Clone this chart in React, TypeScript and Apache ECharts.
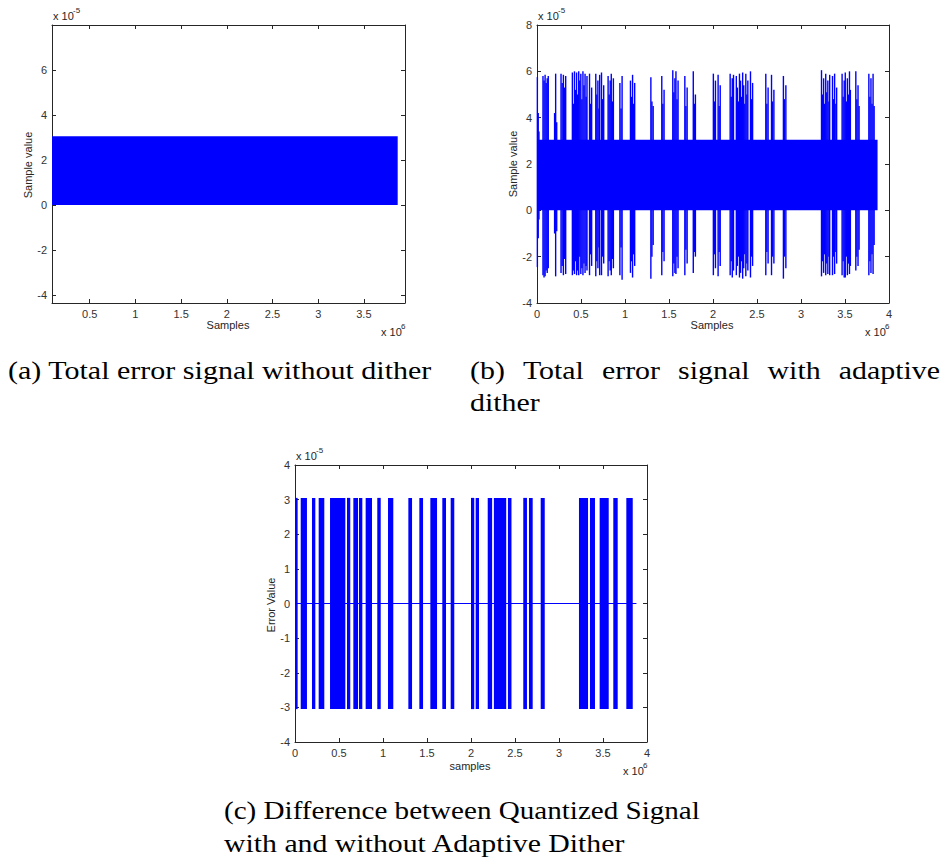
import React, { useEffect, useRef } from 'react';
import * as echarts from 'echarts';

// Units: sample index in millions (x 10^6), error value in x 10^-5.
const quantStep = 3.05; // one quantizer LSB (2^-15)
const signalEnd = 3.87; // last sample of the recording
const zeroLineEnd = 3.88;

const xTicksA = [0.5, 1, 1.5, 2, 2.5, 3, 3.5];
const xTicksBC = [0, 0.5, 1, 1.5, 2, 2.5, 3, 3.5, 4];
const yTicksA = [-4, -2, 0, 2, 4, 6];
const yTicksB = [-4, -2, 0, 2, 4, 6, 8];
const yTicksC = [-4, -3, -2, -1, 0, 1, 2, 3, 4];

// Sample ranges where the adaptive dither changed the quantized output: [from, to]
const ditherBursts: number[][] = [
  [0.0, 0.03], [0.065, 0.136], [0.193, 0.231], [0.269, 0.333], [0.398, 0.572],
  [0.591, 0.628], [0.663, 0.716], [0.727, 0.765], [0.803, 0.875], [0.935, 0.974],
  [1.057, 1.117], [1.288, 1.33], [1.413, 1.455], [1.538, 1.614], [1.674, 1.716],
  [1.769, 1.81], [2.0, 2.037], [2.053, 2.091], [2.19, 2.24], [2.26, 2.4],
  [2.42, 2.46], [2.594, 2.636], [2.659, 2.701], [2.792, 2.838], [3.227, 3.33],
  [3.352, 3.409], [3.462, 3.565], [3.617, 3.667], [3.765, 3.838],
];

// Excursions of the dithered error signal beyond the LSB band: [sample, peak, trough]
const ditherSpikes: number[][] = [
  [0.004, 5.75, -2.45], [0.014, 4.2, -1.2], [0.022, 3.4, -0.4],
  [0.068, 5.8, -2.8], [0.08, 5.6, -2.9], [0.092, 5.85, -2.85], [0.104, 5.5, -2.6], [0.116, 5.7, -2.7], [0.128, 5.8, -2.5],
  [0.2, 4.2, -1.0], [0.212, 5.9, -2.85], [0.224, 3.8, -0.9],
  [0.273, 5.9, -2.7], [0.286, 5.5, -2.4], [0.3, 5.85, -2.8], [0.313, 5.3, -2.1], [0.326, 5.8, -2.75],
  [0.402, 5.95, -2.8], [0.414, 4.6, -2.6], [0.426, 6.0, -2.75], [0.438, 5.2, -2.2],
  [0.45, 5.95, -2.8], [0.462, 5.0, -2.6], [0.474, 6.0, -2.8], [0.486, 5.6, -2.0],
  [0.498, 5.9, -2.75], [0.51, 4.8, -2.5], [0.522, 6.0, -2.8], [0.534, 5.4, -2.3],
  [0.546, 5.9, -2.7], [0.558, 4.9, -2.4], [0.568, 5.8, -2.6],
  [0.597, 5.9, -2.8], [0.609, 4.6, -1.9], [0.621, 5.3, -2.4],
  [0.668, 5.9, -2.85], [0.68, 5.0, -2.2], [0.692, 5.6, -2.5], [0.704, 4.4, -1.6], [0.712, 5.85, -2.8],
  [0.733, 5.95, -2.8], [0.745, 4.8, -2.0], [0.758, 5.4, -2.3],
  [0.808, 5.8, -2.85], [0.82, 5.0, -2.2], [0.832, 5.6, -2.6], [0.844, 5.9, -2.8], [0.856, 4.7, -2.1], [0.868, 5.7, -2.5],
  [0.942, 5.5, -2.8], [0.955, 4.4, -1.6], [0.967, 5.8, -3.0],
  [1.062, 5.6, -2.7], [1.074, 4.9, -2.2], [1.086, 5.85, -2.9], [1.098, 4.6, -1.9], [1.11, 5.5, -2.4],
  [1.294, 5.75, -2.95], [1.306, 4.7, -2.0], [1.32, 4.5, -1.5],
  [1.418, 5.8, -2.8], [1.43, 4.6, -1.8], [1.444, 5.2, -2.2],
  [1.543, 6.05, -2.85], [1.555, 5.1, -2.3], [1.567, 5.7, -2.7], [1.579, 6.0, -2.75], [1.591, 4.8, -2.0], [1.603, 5.6, -2.5],
  [1.68, 5.8, -2.8], [1.692, 4.5, -1.7], [1.706, 5.3, -2.3],
  [1.776, 6.0, -2.7], [1.788, 4.6, -1.8], [1.8, 5.0, -2.0],
  [2.004, 5.9, -2.8], [2.016, 4.7, -1.9], [2.028, 5.6, -2.5],
  [2.058, 5.85, -2.85], [2.07, 4.5, -1.8], [2.082, 5.4, -2.4],
  [2.195, 5.9, -2.8], [2.207, 4.9, -2.2], [2.219, 5.7, -2.9], [2.233, 5.85, -2.6],
  [2.265, 5.8, -2.8], [2.277, 5.3, -2.4], [2.289, 4.7, -2.0], [2.301, 5.9, -2.9], [2.313, 5.6, -2.7],
  [2.325, 4.9, -2.2], [2.337, 5.95, -2.95], [2.349, 5.4, -2.5], [2.361, 4.6, -1.9], [2.373, 5.9, -2.85],
  [2.385, 5.0, -2.3], [2.396, 5.6, -2.6],
  [2.426, 6.0, -2.9], [2.438, 4.8, -2.0], [2.45, 5.5, -2.4],
  [2.6, 5.9, -2.8], [2.612, 4.6, -1.8], [2.626, 5.3, -2.3],
  [2.665, 5.85, -2.8], [2.677, 4.7, -2.0], [2.692, 5.2, -2.3],
  [2.8, 5.8, -2.95], [2.812, 4.8, -2.0], [2.828, 5.4, -2.5],
  [3.233, 6.05, -2.85], [3.245, 5.0, -2.2], [3.257, 5.7, -2.7], [3.269, 4.6, -1.9], [3.281, 5.9, -2.8],
  [3.293, 5.1, -2.3], [3.305, 5.6, -2.75], [3.317, 4.7, -2.0], [3.326, 5.85, -2.8],
  [3.358, 5.8, -2.8], [3.37, 4.8, -2.0], [3.382, 5.9, -2.75], [3.396, 4.6, -1.8], [3.405, 5.3, -2.3],
  [3.467, 5.9, -2.8], [3.479, 4.9, -2.2], [3.491, 5.6, -2.9], [3.503, 5.95, -2.9], [3.515, 4.7, -2.0],
  [3.527, 5.7, -2.8], [3.539, 5.0, -2.3], [3.551, 6.0, -2.75], [3.561, 5.2, -2.4],
  [3.623, 6.0, -2.6], [3.635, 4.8, -2.0], [3.648, 5.4, -2.4], [3.66, 4.5, -1.7],
  [3.771, 5.9, -2.8], [3.783, 4.9, -2.2], [3.795, 5.7, -2.7], [3.807, 4.6, -1.9], [3.819, 5.9, -2.75], [3.831, 4.5, -1.5],
];

const BLUE = '#0000ff';
const INK = '#262626';
const SANS = '"Liberation Sans", Arial, sans-serif';
const CAPTION_FONT = '26px "Liberation Serif", "Times New Roman", serif';

function valueAxis(gridIndex: number, position: string, min: number, max: number, ticks: number[], showLabels: boolean) {
  return {
    type: 'value',
    gridIndex,
    position,
    min,
    max,
    axisLine: { show: true, onZero: false, lineStyle: { color: INK, width: 1 } },
    axisTick: { show: true, inside: true, length: 4, customValues: ticks, lineStyle: { color: INK } },
    axisLabel: {
      show: showLabels,
      customValues: ticks,
      color: '#333',
      fontSize: 11,
      fontFamily: SANS,
      margin: 5,
      showMinLabel: true,
      showMaxLabel: true,
    },
    splitLine: { show: false },
  };
}

function rectItem(params: any, api: any) {
  const p0 = api.coord([api.value(0), api.value(3)]);
  const p1 = api.coord([api.value(1), api.value(2)]);
  const shape = echarts.graphic.clipRectByRect(
    { x: p0[0], y: p0[1], width: p1[0] - p0[0], height: p1[1] - p0[1] },
    { x: params.coordSys.x, y: params.coordSys.y, width: params.coordSys.width, height: params.coordSys.height }
  );
  return shape && { type: 'rect', shape, style: { fill: BLUE } };
}

function spikeItem(_params: any, api: any) {
  const top = api.coord([api.value(0), api.value(1)]);
  const bottom = api.coord([api.value(0), api.value(2)]);
  return {
    type: 'line',
    shape: { x1: top[0], y1: top[1], x2: bottom[0], y2: bottom[1] },
    style: { stroke: BLUE, lineWidth: 1.4 },
  };
}

function label(text: string, x: number, y: number, opts: any = {}) {
  return {
    type: 'text',
    x,
    y,
    rotation: opts.rotation || 0,
    scaleX: opts.scaleX || 1,
    style: {
      text,
      font: opts.font || `11px ${SANS}`,
      fill: opts.fill || INK,
      align: opts.align || 'left',
      verticalAlign: 'middle',
    },
  };
}

function exponent(x: number, y: number, power: string) {
  return [label('x 10', x, y), label(power, x + 20, y - 6, { font: `8px ${SANS}` })];
}

let measureCtx: CanvasRenderingContext2D | null = null;
function captionWidth(text: string) {
  if (!measureCtx) measureCtx = document.createElement('canvas').getContext('2d');
  if (!measureCtx) return text.length * 11;
  measureCtx.font = CAPTION_FONT;
  return measureCtx.measureText(text).width;
}

// A caption line stretched horizontally to run from left to right.
function captionLine(text: string, left: number, right: number, y: number) {
  const scaleX = (right - left) / captionWidth(text);
  return label(text, left, y, { font: CAPTION_FONT, fill: '#000', scaleX });
}

// A justified caption line: words spread evenly between left and right.
function justifiedLine(text: string, left: number, right: number, y: number, scaleX: number) {
  const words = text.split(' ');
  const widths = words.map((w) => captionWidth(w) * scaleX);
  const gap = (right - left - widths.reduce((a, b) => a + b, 0)) / (words.length - 1);
  let x = left;
  return words.map((w, i) => {
    const el = label(w, x, y, { font: CAPTION_FONT, fill: '#000', scaleX });
    x += widths[i] + gap;
    return el;
  });
}

export default function App() {
  const ref = useRef<HTMLDivElement>(null);

  useEffect(() => {
    if (!ref.current) return;
    const chart = echarts.init(ref.current, null, { renderer: 'svg' });
    const band = [[0, signalEnd, 0, quantStep]];
    const burstRects = ditherBursts.map(([from, to]) => [from, to, -quantStep, quantStep]);
    const captionScale = 1.15;

    chart.setOption({
      animation: false,
      grid: [
        { left: 52, top: 25, width: 353, height: 278, containLabel: false, outerBoundsMode: 'none' },
        { left: 537, top: 25, width: 352, height: 278, containLabel: false, outerBoundsMode: 'none' },
        { left: 295, top: 465, width: 352, height: 277, containLabel: false, outerBoundsMode: 'none' },
      ],
      xAxis: [
        valueAxis(0, 'bottom', 0.087, 3.95, xTicksA, true),
        valueAxis(0, 'top', 0.087, 3.95, xTicksA, false),
        valueAxis(1, 'bottom', 0, 4, xTicksBC, true),
        valueAxis(1, 'top', 0, 4, xTicksBC, false),
        valueAxis(2, 'bottom', 0, 4, xTicksBC, true),
        valueAxis(2, 'top', 0, 4, xTicksBC, false),
      ],
      yAxis: [
        valueAxis(0, 'left', -4.36, 8, yTicksA, true),
        valueAxis(0, 'right', -4.36, 8, yTicksA, false),
        valueAxis(1, 'left', -4, 8, yTicksB, true),
        valueAxis(1, 'right', -4, 8, yTicksB, false),
        valueAxis(2, 'left', -4, 4, yTicksC, true),
        valueAxis(2, 'right', -4, 4, yTicksC, false),
      ],
      series: [
        { type: 'custom', xAxisIndex: 0, yAxisIndex: 0, renderItem: rectItem, data: band, encode: { x: [0, 1], y: [2, 3] }, silent: true },
        { type: 'custom', xAxisIndex: 2, yAxisIndex: 2, renderItem: rectItem, data: band, encode: { x: [0, 1], y: [2, 3] }, silent: true },
        { type: 'custom', xAxisIndex: 2, yAxisIndex: 2, renderItem: spikeItem, data: ditherSpikes, encode: { x: 0, y: [1, 2] }, silent: true },
        {
          type: 'line', xAxisIndex: 4, yAxisIndex: 4, data: [[0, 0], [zeroLineEnd, 0]], color: BLUE,
          symbol: 'none', lineStyle: { color: BLUE, width: 1 }, silent: true,
        },
        { type: 'custom', xAxisIndex: 4, yAxisIndex: 4, renderItem: rectItem, data: burstRects, encode: { x: [0, 1], y: [2, 3] }, silent: true },
      ],
      graphic: [
        // panel (a)
        ...exponent(53, 16, '-5'),
        label('Sample value', 28, 165, { rotation: Math.PI / 2, align: 'center' }),
        label('Samples', 228, 325, { align: 'center' }),
        ...exponent(381, 332, '6'),
        // panel (b)
        ...exponent(538, 16, '-5'),
        label('Sample value', 513, 164, { rotation: Math.PI / 2, align: 'center' }),
        label('Samples', 712, 325, { align: 'center' }),
        ...exponent(865, 332, '6'),
        // panel (c)
        ...exponent(296, 456, '-5'),
        label('Error Value', 271, 605, { rotation: Math.PI / 2, align: 'center' }),
        label('samples', 470, 766, { align: 'center' }),
        ...exponent(623, 771, '6'),
        // captions
        captionLine('(a) Total error signal without dither', 8, 432, 370),
        ...justifiedLine('(b) Total error signal with adaptive', 470, 940, 370, captionScale),
        label('dither', 470, 402, { font: CAPTION_FONT, fill: '#000', scaleX: captionScale }),
        captionLine('(c) Difference between Quantized Signal', 224, 700, 810),
        captionLine('with and without Adaptive Dither', 224, 626, 843),
      ],
    });
    return () => chart.dispose();
  }, []);

  return (
    <div
      ref={ref}
      style={{ position: 'absolute', left: 0, top: 0, width: 946, height: 857, background: '#fff' }}
    />
  );
}
